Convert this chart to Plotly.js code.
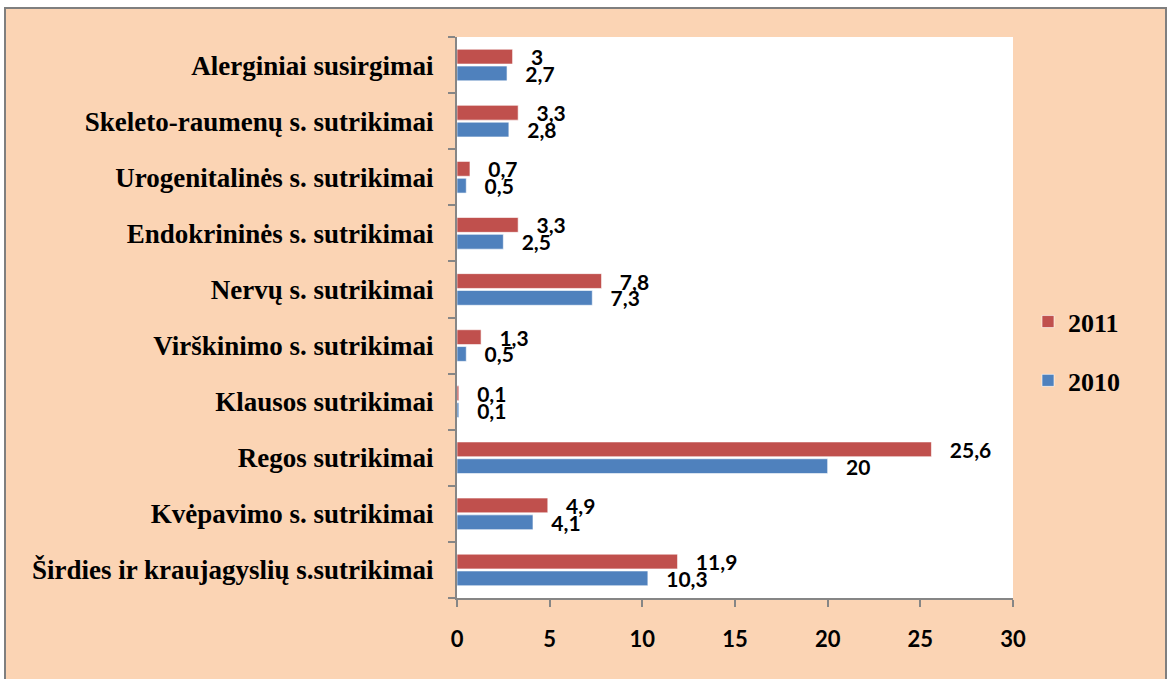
<!DOCTYPE html>
<html>
<head>
<meta charset="utf-8">
<script src="https://cdn.plot.ly/plotly-3.0.1.min.js"></script>
<style>html,body{margin:0;padding:0;background:#fff;}#chart{width:1169px;height:679px;}</style>
</head>
<body>
<div id="chart"></div>
<script>
const categories = [
  "Širdies ir kraujagyslių s.sutrikimai",
  "Kvėpavimo s. sutrikimai",
  "Regos sutrikimai",
  "Klausos sutrikimai",
  "Virškinimo s. sutrikimai",
  "Nervų s. sutrikimai",
  "Endokrininės s. sutrikimai",
  "Urogenitalinės s. sutrikimai",
  "Skeleto-raumenų s. sutrikimai",
  "Alerginiai susirgimai"
];
const values2010 = [10.3, 4.1, 20, 0.1, 0.5, 7.3, 2.5, 0.5, 2.8, 2.7];
const values2011 = [11.9, 4.9, 25.6, 0.1, 1.3, 7.8, 3.3, 0.7, 3.3, 3];
const seriesNames = ["2010", "2011"];
const xTicks = [0, 5, 10, 15, 20, 25, 30];

const fmt = v => String(v).replace('.', ',');
const pad = '\u00A0\u00A0\u00A0';

function barTrace(name, vals, color, group, rank) {
  return {
    type: 'bar', orientation: 'h', name: name,
    x: vals, y: categories,
    text: vals.map(v => pad + fmt(v)),
    textposition: 'outside', constraintext: 'none', cliponaxis: false,
    textfont: {family: 'Lato, "Open Sans", sans-serif', size: 21, color: '#000', weight: 'bold'},
    marker: {color: color, line: {color: 'rgba(255,255,255,0.6)', width: 1}},
    legendgroup: group, legendrank: rank, hoverinfo: 'x+y'
  };
}

const data = [
  barTrace(seriesNames[0], values2010, '#4F81BD', 'g2010', 2),
  barTrace(seriesNames[1], values2011, '#C0504D', 'g2011', 1)
];

const layout = {
  width: 1169, height: 679,
  margin: {l: 457, r: 156, t: 37, b: 81, pad: 0},
  paper_bgcolor: '#ffffff', plot_bgcolor: '#ffffff',
  barmode: 'group', bargap: 0.4, bargroupgap: 0.12,
  showlegend: true,
  legend: {
    x: (1028 - 457) / 556, xanchor: 'left', y: 0.44, yanchor: 'middle',
    traceorder: 'grouped', tracegroupgap: 22, itemwidth: 30,
    bgcolor: 'rgba(0,0,0,0)',
    font: {family: '"Liberation Serif", "Times New Roman", serif', size: 26, color: '#000', weight: 'bold'}
  },
  xaxis: {
    range: [0, 30], tickvals: xTicks, ticktext: xTicks.map(String),
    showgrid: false, zeroline: false,
    showline: true, linecolor: '#868686', linewidth: 2,
    ticks: 'outside', ticklen: 7, tickwidth: 2, tickcolor: '#868686',
    ticklabelstandoff: 14,
    tickfont: {family: 'Lato, "Open Sans", sans-serif', size: 22, color: '#000', weight: 'bold'},
    fixedrange: true
  },
  yaxis: {
    type: 'category',
    showgrid: false, zeroline: false,
    showline: true, linecolor: '#868686', linewidth: 2,
    ticks: 'outside', ticklen: 7, tickwidth: 2, tickcolor: '#868686',
    tickson: 'boundaries',
    ticklabelstandoff: 16,
    tickfont: {family: '"Liberation Serif", "Times New Roman", serif', size: 27, color: '#000', weight: 'bold'},
    fixedrange: true
  },
  shapes: [
    {type: 'rect', xref: 'paper', yref: 'paper', layer: 'below',
     x0: (5 - 457) / 556, x1: (1166 - 457) / 556,
     y0: (598 - 690) / 561, y1: (598 - 8) / 561,
     fillcolor: '#FBD4B4', line: {color: '#7F7F7F', width: 2}},
    {type: 'rect', xref: 'paper', yref: 'paper', layer: 'below',
     x0: 0, x1: 1, y0: 0, y1: 1,
     fillcolor: '#ffffff', line: {width: 0}}
  ]
};

Plotly.newPlot('chart', data, layout, {displayModeBar: false, staticPlot: true});
</script>
</body>
</html>
